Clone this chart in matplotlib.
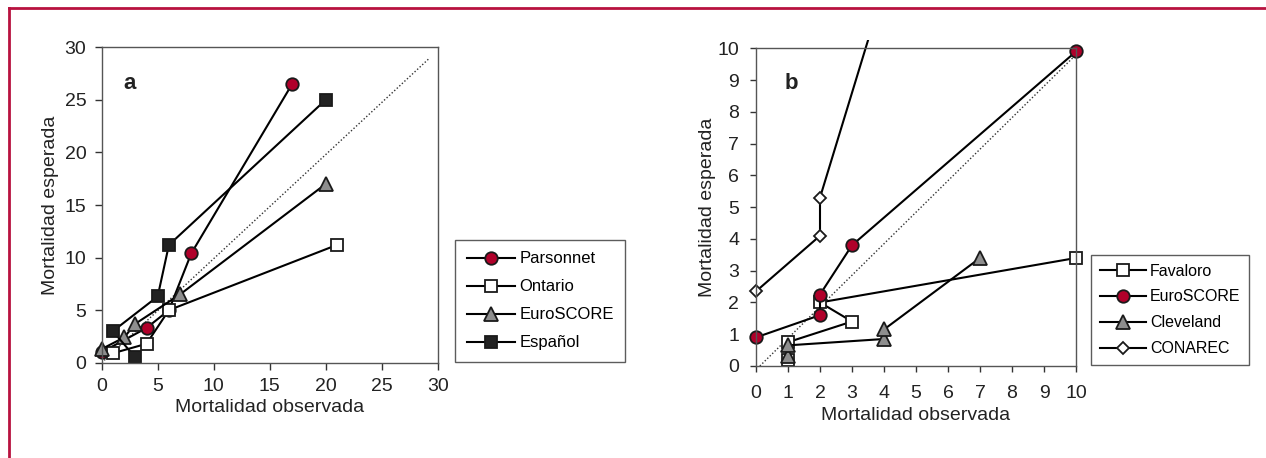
import matplotlib.pyplot as plt
from matplotlib.lines import Line2D
from matplotlib.patches import Rectangle

plt.rcParams['font.family'] = ['Liberation Sans', 'DejaVu Sans']

# panel a: observed vs expected mortality (risk groups, sorted by expected)
parsonnet_x = [0, 4, 6, 8, 17]
parsonnet_y = [1.0, 3.3, 5.0, 10.4, 26.5]
ontario_x = [1, 4, 6, 21]
ontario_y = [0.9, 1.8, 5.0, 11.2]
euroscore_a_x = [0, 2, 3, 7, 20]
euroscore_a_y = [1.3, 2.4, 3.7, 6.5, 17.0]
espanol_x = [3, 1, 5, 6, 20]
espanol_y = [0.5, 3.0, 6.3, 11.2, 25.0]
diag_a_x = [0, 29.3]
diag_a_y = [0, 29.0]

# panel b
favaloro_x = [1, 1, 3, 2, 10]
favaloro_y = [0.2, 0.75, 1.4, 2.0, 3.4]
euroscore_b_x = [0, 2, 2, 3, 10]
euroscore_b_y = [0.9, 1.6, 2.25, 3.8, 9.9]
cleveland_x = [1, 1, 4, 4, 7]
cleveland_y = [0.3, 0.65, 0.85, 1.15, 3.4]
conarec_x = [0, 2, 2, 4]
conarec_y = [2.35, 4.1, 5.3, 11.9]
diag_b_x = [0.12, 10]
diag_b_y = [0, 9.8]

ticks_a = [0, 5, 10, 15, 20, 25, 30]
ticks_b = list(range(11))

red = '#B0002A'
grey = '#8E8E8E'
dark = '#222222'
edge = '#1a1a1a'

fig = plt.figure(figsize=(12.66, 4.58), dpi=100)

# crimson frame (only top and left edges visible)
fig.add_artist(Line2D([9 / 1266, 9 / 1266], [0, 1 - 7.5 / 458], color='#B8123F', lw=2, transform=fig.transFigure))
fig.add_artist(Line2D([9 / 1266, 1], [1 - 7.5 / 458, 1 - 7.5 / 458], color='#B8123F', lw=2, transform=fig.transFigure))

axa = fig.add_axes([101.7 / 1266, (458 - 362.7) / 458, 336 / 1266, 315.4 / 458])
axb = fig.add_axes([756 / 1266, (458 - 366) / 458, 320 / 1266, 317.7 / 458])

kw = dict(color='black', lw=1.5, markeredgecolor=edge, markeredgewidth=1.3, clip_on=False)

axa.plot(diag_a_x, diag_a_y, ls=(0, (1, 1.5)), color='#333333', lw=1)
axa.plot(parsonnet_x, parsonnet_y, marker='o', ms=9, markerfacecolor=red, label='Parsonnet', **kw)
axa.plot(ontario_x, ontario_y, marker='s', ms=9, markerfacecolor='white', label='Ontario', **kw)
axa.plot(euroscore_a_x, euroscore_a_y, marker='^', ms=10, markerfacecolor=grey, label='EuroSCORE', **kw)
axa.plot(espanol_x, espanol_y, marker='s', ms=9, markerfacecolor=dark, label='Español', **kw)

axb.plot(diag_b_x, diag_b_y, ls=(0, (1, 1.5)), color='#333333', lw=1)
axb.plot(favaloro_x, favaloro_y, marker='s', ms=9, markerfacecolor='white', label='Favaloro', **kw)
axb.plot(euroscore_b_x, euroscore_b_y, marker='o', ms=9, markerfacecolor=red, label='EuroSCORE', **kw)
axb.plot(cleveland_x, cleveland_y, marker='^', ms=10, markerfacecolor=grey, label='Cleveland', **kw)
ln, = axb.plot(conarec_x, conarec_y, marker='D', ms=6.5, markerfacecolor='white', label='CONAREC', **kw)
ln.set_clip_on(True)
ln.set_clip_path(Rectangle((-0.05, -0.05), 1.1, 1.076, transform=axb.transAxes))

for ax, ticks, lim, tl, xpad, ypad, ylp in [(axa, ticks_a, 30, 5, 6, 6, 4), (axb, ticks_b, 10, 4, 10, 8, 1)]:
    ax.set_xlim(0, lim)
    ax.set_ylim(0, lim)
    ax.set_xticks(ticks)
    ax.set_yticks(ticks)
    ax.tick_params(direction='out', length=tl, width=1, color='#333333', labelsize=14, labelcolor='#222222')
    ax.tick_params(axis='x', pad=xpad)
    ax.tick_params(axis='y', pad=ypad)
    for s in ax.spines.values():
        s.set_color('#555555')
        s.set_linewidth(1)
    ax.set_xlabel('Mortalidad observada', fontsize=14, color='#222222', labelpad=3)
    ax.set_ylabel('Mortalidad esperada', fontsize=14, color='#222222', labelpad=ylp)

axa.text(2.5, 26.6, 'a', fontsize=16, fontweight='bold', va='center', ha='center', color='#222222')
axb.text(1.1, 8.9, 'b', fontsize=16, fontweight='bold', va='center', ha='center', color='#222222')

for ax, loc, sp, bp, fs in [(axa, (455 / 1266, 1 - 362 / 458), 0.78, 0.7, 12),
                            (axb, (1091 / 1266, 1 - 365 / 458), 0.68, 0.55, 11.5)]:
    leg = fig.legend(handles=ax.get_legend_handles_labels()[0], loc='lower left', bbox_to_anchor=loc,
                     fontsize=fs, frameon=True, fancybox=False, edgecolor='#333333', handlelength=2.9,
                     borderaxespad=0, labelspacing=sp, handletextpad=0.25, borderpad=bp)
    leg.get_frame().set_linewidth(1)

fig.savefig('out.png', dpi=100)
